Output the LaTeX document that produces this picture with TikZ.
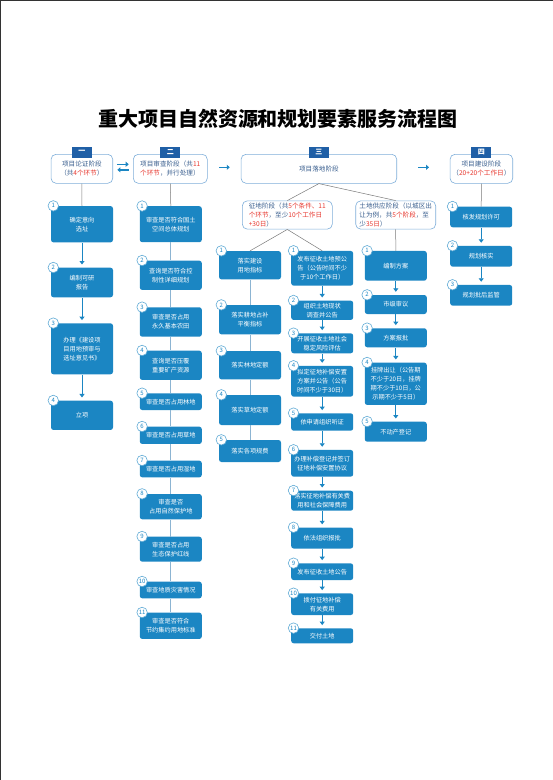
\documentclass[tikz,border=0pt]{standalone}
\usepackage{fontspec}
\usepackage{tikz}
\usetikzlibrary{arrows.meta}
\newfontfamily\cjk{Noto Sans CJK SC}
\definecolor{boxblue}{HTML}{1B86C3}
\definecolor{tabblue}{HTML}{1F5FA6}
\definecolor{hdrtext}{HTML}{3A5F8F}
\definecolor{hdrline}{HTML}{7FAFDA}
\definecolor{redtxt}{HTML}{E8382F}
\definecolor{lineblue}{HTML}{8CB4D2}
\definecolor{linegray}{HTML}{7A7A7A}
\begin{document}
\begin{tikzpicture}[x=1pt,y=-1pt,
	box/.style={rectangle,rounded corners=2.5pt,fill=boxblue,text=white,align=center,inner sep=1pt,minimum width=62pt,font=\cjk\fontsize{6.2}{9}\selectfont},
	head/.style={rectangle,rounded corners=5pt,draw=hdrline,line width=0.6pt,fill=white,text=hdrtext,inner sep=2pt,minimum height=29pt,font=\cjk\fontsize{6.6}{9}\selectfont},
	tab/.style={rectangle,fill=tabblue,text=white,minimum width=20pt,minimum height=11pt,inner sep=0pt,font=\cjk\bfseries\fontsize{7}{8}\selectfont},
	num/.style={circle,draw=boxblue!70,line width=0.6pt,fill=white,text=boxblue,minimum size=10.5pt,inner sep=0pt,font=\cjk\fontsize{6}{6}\selectfont},
	arr/.style={draw=boxblue,line width=1pt,-{Triangle[length=3.5pt,width=5pt]},shorten >=3pt},
	plain/.style={draw=lineblue,line width=1pt},
	gline/.style={draw=linegray,line width=0.5pt},
	harr/.style={draw=boxblue,line width=1.6pt,-{Triangle[length=3pt,width=5pt]}}
	]
	
	\useasboundingbox (0,0) rectangle (553,780);
	\draw[black!80,line width=1pt] (0.5,780) -- (0.5,0.5) -- (553,0.5);
	
	\node[font=\cjk\bfseries\fontsize{20}{24}\selectfont] (title) at (278,119) {重大项目自然资源和规划要素服务流程图};
	
	% stage headers
	\node[head,minimum width=61.7pt,align=center] (h1) at (81.9,168.8) {项目论证阶段\\（共\textcolor{redtxt}{4个环节}）};
	\node[head,minimum width=74pt,align=left]     (h2) at (170.3,168.8) {项目审查阶段（共\textcolor{redtxt}{11}\\\textcolor{redtxt}{个环节}，并行处理）};
	\node[head,minimum width=155.7pt,align=center] (h3) at (318.9,168.8) {项目落地阶段};
	\node[head,minimum width=62.7pt,align=center] (h4) at (481.4,168.8) {项目建设阶段\\（\textcolor{redtxt}{20+20个工作日}）};
	\node[tab] (t1) at ([yshift=2pt]h1.north) {一};
	\node[tab] (t2) at ([yshift=2pt]h2.north) {二};
	\node[tab] (t3) at ([yshift=2pt]h3.north) {三};
	\node[tab] (t4) at ([yshift=2pt]h4.north) {四};
	\draw[harr,shorten <=4.3pt,shorten >=4.3pt] ([yshift=4.5pt]h1.east) -- ([yshift=4.5pt]h2.west);
	\draw[harr,shorten <=4.3pt,shorten >=4.3pt] ([yshift=-1pt]h2.west) -- ([yshift=-1pt]h1.east);
	\draw[harr,shorten <=11.7pt,shorten >=11pt] ([yshift=1.5pt]h2.east) -- ([yshift=1.5pt]h3.west);
	\draw[harr,shorten <=21pt,shorten >=20.7pt] ([yshift=1.5pt]h3.east) -- ([yshift=1.5pt]h4.west);
	
	% sub stages of stage three
	\node[head,minimum width=90pt,minimum height=28pt,align=left] (s1) at (287.3,215) {征地阶段（共\textcolor{redtxt}{5个条件、11}\\\textcolor{redtxt}{个环节}，至少\textcolor{redtxt}{10个工作日}\\\textcolor{redtxt}{+30日}）};
	\node[head,minimum width=80pt,minimum height=28pt,align=left] (s2) at (395.7,215) {土地供应阶段（以城区出\\让为例，共\textcolor{redtxt}{5个阶段}，至\\少\textcolor{redtxt}{35日}）};
	
	% stage one
	\node[box,minimum height=36.3pt] (c1a) at (82,224.2) {确定意向\\选址};
	\node[box,minimum height=29.6pt] (c1b) at (82,282.5) {编制可研\\报告};
	\node[box,minimum height=51pt]   (c1c) at (82,348.8) {办理《建设项\\目用地预审与\\选址意见书》};
	\node[box,minimum height=29.3pt] (c1d) at (82,415.3) {立项};
	
	% stage two
	\node[box,minimum height=36pt]   (c2a) at (170.8,224.2) {审查是否符合国土\\空间总体规划};
	\node[box,minimum height=29.3pt] (c2b) at (170.8,275.3) {查询是否符合控\\制性详细规划};
	\node[box,minimum height=29.4pt] (c2c) at (170.8,322) {审查是否占用\\永久基本农田};
	\node[box,minimum height=29.3pt] (c2d) at (170.8,365.3) {查询是否压覆\\重要矿产资源};
	\node[box,minimum height=16.7pt] (c2e) at (170.8,401.7) {审查是否占用林地};
	\node[box,minimum height=17.3pt] (c2f) at (170.8,435.3) {审查是否占用草地};
	\node[box,minimum height=16.7pt] (c2g) at (170.8,469) {审查是否占用湿地};
	\node[box,minimum height=25.3pt] (c2h) at (170.8,506.7) {审查是否\\占用自然保护地};
	\node[box,minimum height=25pt]   (c2i) at (170.8,549.2) {审查是否占用\\生态保护红线};
	\node[box,minimum height=16.7pt] (c2j) at (170.8,590) {审查地质灾害情况};
	\node[box,minimum height=26.3pt] (c2k) at (170.8,625.8) {审查是否符合\\节约集约用地标准};
	
	% stage three, left
	\node[box,minimum height=28.3pt] (c3a) at (250,265.2) {落实建设\\用地指标};
	\node[box,minimum height=29.3pt] (c3b) at (250,319.7) {落实耕地占补\\平衡指标};
	\node[box,minimum height=28.3pt] (c3c) at (250,365.2) {落实林地定额};
	\node[box,minimum height=30pt]   (c3d) at (250,410) {落实草地定额};
	\node[box,minimum height=22pt]   (c3e) at (250,451) {落实各项规费};
	
	% stage three, middle
	\node[box,minimum height=34.7pt] (c4a) at (322.2,268.3) {发布征收土地预公\\告（公告时间不少\\于10个工作日）};
	\node[box,minimum height=19.3pt] (c4b) at (322.2,310.3) {组织土地现状\\调查并公告};
	\node[box,minimum height=20pt]   (c4c) at (322.2,343.3) {开展征收土地社会\\稳定风险评估};
	\node[box,minimum height=30.7pt] (c4d) at (322.2,381.3) {拟定征地补偿安置\\方案并公告（公告\\时间不少于30日）};
	\node[box,minimum height=17.4pt] (c4e) at (322.2,422) {依申请组织听证};
	\node[box,minimum height=26.7pt] (c4f) at (322.2,463.3) {办理补偿登记并签订\\征地补偿安置协议};
	\node[box,minimum height=20pt]   (c4g) at (322.2,500.7) {落实征地补偿有关费\\用和社会保障费用};
	\node[box,minimum height=21pt]   (c4h) at (322.2,538) {依法组织报批};
	\node[box,minimum height=16.7pt] (c4i) at (322.2,571.7) {发布征收土地公告};
	\node[box,minimum height=21.7pt] (c4j) at (322.2,604.2) {拨付征地补偿\\有关费用};
	\node[box,minimum height=15pt]   (c4k) at (322.2,635.8) {交付土地};
	
	% stage three, right
	\node[box,minimum height=29.7pt] (c5a) at (395.8,265.8) {编制方案};
	\node[box,minimum height=19pt]   (c5b) at (395.8,304.5) {市级审议};
	\node[box,minimum height=19pt]   (c5c) at (395.8,337.8) {方案报批};
	\node[box,minimum height=42.3pt] (c5d) at (395.8,383.8) {挂牌出让（公告期\\不少于20日，挂牌\\期不少于10日，公\\示期不少于5日）};
	\node[box,minimum height=20pt]   (c5e) at (395.8,431.7) {不动产登记};
	
	% stage four
	\node[box,minimum height=20.6pt] (c6a) at (481.2,217) {核发规划许可};
	\node[box,minimum height=20.7pt] (c6b) at (481.2,256.3) {规划核实};
	\node[box,minimum height=20.7pt] (c6c) at (481.2,295.3) {规划批后监管};
	
	% step numbers
	\foreach \n/\b in {1/c1a,2/c1b,3/c1c,4/c1d,
		1/c2a,2/c2b,3/c2c,4/c2d,5/c2e,6/c2f,7/c2g,8/c2h,9/c2i,10/c2j,11/c2k,
		1/c3a,2/c3b,3/c3c,4/c3d,5/c3e,
		1/c4a,2/c4b,3/c4c,4/c4d,5/c4e,6/c4f,7/c4g,8/c4h,9/c4i,10/c4j,11/c4k,
		1/c5a,2/c5b,3/c5c,4/c5d,5/c5e,
		1/c6a,2/c6b,3/c6c}
		\node[num] (n-\b) at ([xshift=2.5pt]\b.north west) {\n};
	
	% header to first step
	\draw[gline] (h1.south) -- (c1a.north);
	\draw[gline] (h2.south) -- (c2a.north);
	\draw[gline] (h4.south) -- (c6a.north);
	\draw[gline] (h3.south) -- (s1.north);
	\draw[gline] (h3.south) -- (s2.north);
	\draw[gline] (s1.south) -- (c3a.north);
	\draw[gline] (s1.south) -- (c4a.north);
	\draw[gline] (s2.south) -- (c5a.north);
	
	% steps
	\foreach \a/\b in {c1a/c1b,c1b/c1c,c1c/c1d,
		c4a/c4b,c4b/c4c,c4c/c4d,c4d/c4e,c4e/c4f,c4f/c4g,c4g/c4h,c4h/c4i,c4i/c4j,c4j/c4k,
		c5a/c5b,c5b/c5c,c5c/c5d,c5d/c5e,
		c6a/c6b,c6b/c6c}
		\draw[arr] (\a) -- (\b);
	\foreach \a/\b in {c2a/c2b,c2b/c2c,c2c/c2d,c2d/c2e,c2e/c2f,c2f/c2g,c2g/c2h,c2h/c2i,c2i/c2j,c2j/c2k,
		c3a/c3b,c3b/c3c,c3c/c3d,c3d/c3e}
		\draw[plain] (\a) -- (\b);
	
\end{tikzpicture}
\end{document}
